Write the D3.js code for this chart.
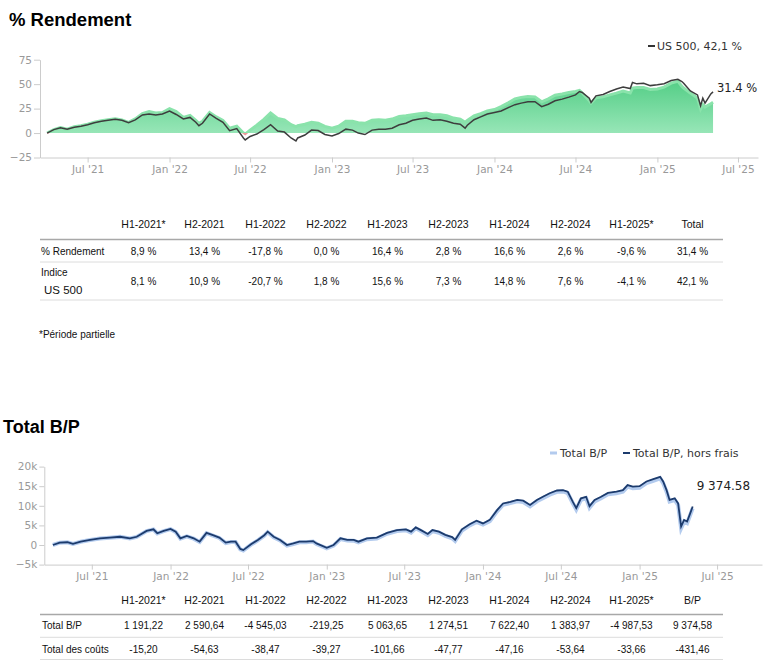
<!DOCTYPE html>
<html>
<head>
<meta charset="utf-8">
<script src="https://cdn.jsdelivr.net/npm/d3@7"></script>
<style>
body { margin: 0; background: #fff; }
svg { display: block; font-family: "Liberation Sans", Arial, sans-serif; }
.axis text { font-family: "DejaVu Sans", sans-serif; font-size: 10.5px; fill: #999; }
.axis path, .axis line { stroke: #ccc; }
</style>
</head>
<body>
<svg id="chart" width="772" height="663"></svg>
<script>
// ---- % Rendement chart (values in %) ----
const rendDates = [
  "2021-04-01","2021-04-16","2021-05-01","2021-05-16","2021-06-01","2021-06-16","2021-07-01","2021-07-16","2021-08-01","2021-08-16",
  "2021-09-01","2021-09-16","2021-10-01","2021-10-16","2021-11-01","2021-11-16","2021-12-01","2021-12-16","2022-01-01","2022-01-16",
  "2022-02-01","2022-02-16","2022-03-01","2022-03-08","2022-03-16","2022-04-01","2022-04-16","2022-05-01","2022-05-16","2022-06-01",
  "2022-06-16","2022-06-20","2022-07-01","2022-07-16","2022-08-01","2022-08-16","2022-09-01","2022-09-16","2022-10-01","2022-10-12",
  "2022-10-16","2022-11-01","2022-11-16","2022-12-01","2022-12-16","2023-01-01","2023-01-16","2023-02-01","2023-02-16","2023-03-01",
  "2023-03-16","2023-04-01","2023-04-16","2023-05-01","2023-05-16","2023-06-01","2023-06-16","2023-07-01","2023-07-16","2023-08-01",
  "2023-08-16","2023-09-01","2023-09-16","2023-10-01","2023-10-16","2023-10-27","2023-11-01","2023-11-16","2023-12-01","2023-12-16",
  "2024-01-01","2024-01-16","2024-02-01","2024-02-16","2024-03-01","2024-03-16","2024-04-01","2024-04-16","2024-05-01","2024-05-16",
  "2024-06-01","2024-06-16","2024-07-01","2024-07-10","2024-07-16","2024-08-01","2024-08-05","2024-08-16","2024-09-01","2024-09-16",
  "2024-10-01","2024-10-16","2024-11-01","2024-11-06","2024-11-16","2024-12-01","2024-12-16","2025-01-01","2025-01-16","2025-02-01",
  "2025-02-16","2025-02-25","2025-03-01","2025-03-16","2025-04-01","2025-04-08","2025-04-13","2025-04-18","2025-05-01","2025-05-06"
]
const rendValues = [
  0, 3.5, 5.5, 4, 6.5, 7.5, 9, 11, 12.5, 13.5,
  14.5, 13.5, 11, 14.5, 20, 22, 20.5, 21, 25, 22,
  16, 18, 13, 10, 12, 21, 16.5, 13, 5, 7,
  0, -1.2, 3, 8, 14, 20.5, 15, 13.5, 8.5, 6.5,
  7.5, 9, 11, 10, 6.8, 5, 7, 12, 12, 10.5,
  10, 13, 13.6, 13, 14.3, 17, 17.7, 18.7, 19.7, 20.4,
  18.7, 18.7, 17.7, 15.3, 14.3, 11, 13, 17.5, 19.8, 22.5,
  24, 27, 31, 35, 36.5, 37.4, 37, 32, 35, 38.7,
  40, 41.5, 42.5, 43.5, 41, 33, 30.6, 36, 37, 39,
  40.8, 43, 41, 46, 46.5, 46.5, 44.5, 45, 47, 51,
  53, 47.6, 46, 41, 35.7, 24.5, 29, 26.5, 30, 31.4
]
const indexValues = [
  0, 3.5, 5.5, 4, 6, 7, 8.5, 10.5, 12, 13,
  14, 13, 10.5, 13.5, 18.5, 19.5, 18.5, 19.5, 22.5, 19,
  14.5, 16, 11, 7.5, 10, 19.5, 15, 11, 2.5, 4.5,
  -5, -7, -3.5, -1, 3.5, 8.5, 2, 1, -5, -8,
  -5, -2, 3, 2.5, -1.5, -3, -0.5, 4, 3, 0,
  -1.5, 3, 4, 4, 5, 8.5, 10, 13, 14.3, 15.3,
  13, 13.6, 12, 10, 9, 5, 8, 13.6, 16.5, 19.5,
  21, 22.5, 26, 29, 30.6, 32, 32, 27, 29.5, 33,
  34.7, 36.7, 39, 42.5, 41.5, 35.7, 31.3, 38, 39.5, 42.5,
  45, 47, 45.5, 51.7, 50.3, 51, 48.5, 49.3, 50.5, 53.7,
  55, 52.7, 51, 43, 39, 27.9, 35.7, 30.6, 40, 42.1
]
const rendTicks = [-25, 0, 25, 50, 75]

// ---- Total B/P chart (values in thousands) ----
const bpDates = [
  "2021-04-01","2021-04-17","2021-05-05","2021-05-18","2021-06-05","2021-06-27","2021-07-20","2021-08-12","2021-09-05","2021-09-28",
  "2021-10-14","2021-11-06","2021-11-22","2021-12-01","2021-12-16","2022-01-01","2022-01-13","2022-01-24","2022-02-08","2022-02-24",
  "2022-03-10","2022-03-26","2022-04-10","2022-04-25","2022-05-10","2022-05-22","2022-06-02","2022-06-13","2022-06-20","2022-07-08",
  "2022-07-24","2022-08-08","2022-08-16","2022-08-30","2022-09-14","2022-09-30","2022-10-15","2022-10-29","2022-11-14","2022-11-30",
  "2022-12-08","2023-01-01","2023-01-17","2023-02-02","2023-02-18","2023-03-05","2023-03-16","2023-04-05","2023-04-28","2023-05-22",
  "2023-06-14","2023-07-05","2023-07-17","2023-07-28","2023-08-09","2023-08-25","2023-09-05","2023-09-20","2023-10-05","2023-10-21",
  "2023-10-28","2023-11-13","2023-12-01","2023-12-17","2024-01-01","2024-01-17","2024-02-03","2024-02-17","2024-03-05","2024-03-21",
  "2024-04-04","2024-04-20","2024-05-06","2024-05-20","2024-06-05","2024-06-22","2024-07-06","2024-07-17","2024-07-29","2024-08-06",
  "2024-08-17","2024-08-29","2024-09-06","2024-09-18","2024-10-03","2024-10-19","2024-11-08","2024-11-23","2024-12-04","2024-12-16",
  "2025-01-01","2025-01-17","2025-02-02","2025-02-18","2025-02-25","2025-03-05","2025-03-12","2025-03-24","2025-04-01","2025-04-08",
  "2025-04-15","2025-04-22","2025-04-29","2025-05-05"
]
const bpHorsFrais = [
  0, 0.6, 0.7, 0.3, 0.85, 1.3, 1.7, 1.9, 2.1, 1.7,
  2.1, 3.6, 4.0, 3.0, 3.6, 4.1, 3.4, 1.7, 2.3, 1.7,
  0.85, 3.1, 2.5, 1.9, 0.6, 0.85, 0.85, -1.0, -1.3, 0.2,
  1.3, 2.5, 3.4, 2.1, 1.3, 0.0, 0.4, 0.85, 0.85, 1.0,
  0.4, -0.7, 0.0, 1.7, 1.3, 1.3, 0.85, 1.7, 1.9, 3.1,
  3.8, 4.0, 3.4, 4.5, 3.8, 2.8, 3.8, 3.4, 2.6, 2.0,
  1.3, 4.0, 5.3, 6.2, 5.5, 6.4, 8.9, 10.6, 11.0, 11.5,
  11.3, 10.2, 11.5, 12.3, 13.2, 13.9, 14.0, 13.6, 11.0, 9.4,
  11.9, 12.3, 9.9, 11.5, 12.3, 13.3, 13.6, 14.0, 15.3, 14.9,
  15.0, 16.2, 16.8, 17.4, 16.2, 14.0, 11.5, 11.9, 10.6, 4.7,
  6.4, 6.0, 8.0, 9.81
]
const bpTotal = [
  0, 0.59, 0.69, 0.29, 0.84, 1.29, 1.68, 1.87, 2.07, 1.66,
  2.05, 3.55, 3.95, 2.94, 3.53, 4.03, 3.33, 1.62, 2.22, 1.61,
  0.76, 3.0, 2.4, 1.8, 0.5, 0.75, 0.75, -1.1, -1.41, 0.09,
  1.18, 2.38, 3.27, 1.97, 1.17, -0.13, 0.26, 0.71, 0.71, 0.86,
  0.26, -0.85, -0.16, 1.53, 1.12, 1.11, 0.65, 1.49, 1.67, 2.86,
  3.55, 3.75, 3.15, 4.25, 3.55, 2.54, 3.54, 3.13, 2.32, 1.71,
  1.01, 3.71, 5.0, 5.9, 5.2, 6.09, 8.58, 10.27, 10.67, 11.16,
  10.96, 9.85, 11.15, 11.94, 12.85, 13.56, 13.66, 13.25, 10.65, 9.05,
  11.54, 11.93, 9.53, 11.13, 11.92, 12.92, 13.22, 13.61, 14.91, 14.51,
  14.6, 15.79, 16.39, 16.99, 15.79, 13.59, 11.09, 11.48, 10.18, 4.28,
  5.98, 5.58, 7.58, 9.37
]
const bpTicks = [-5, 0, 5, 10, 15, 20]

// ---- tables ----
const periods = ["H1-2021*","H2-2021","H1-2022","H2-2022","H1-2023","H2-2023","H1-2024","H2-2024","H1-2025*"]
const rendTable = [8.9, 13.4, -17.8, 0.0, 16.4, 2.8, 16.6, 2.6, -9.6]
const rendTotal = 31.4
const indexTable = [8.1, 10.9, -20.7, 1.8, 15.6, 7.3, 14.8, 7.6, -4.1]
const indexTotal = 42.1
const bpTable = [1191.22, 2590.64, -4545.03, -219.25, 5063.65, 1274.51, 7622.40, 1383.97, -4987.53]
const bpTableTotal = 9374.58
const costTable = [-15.20, -54.63, -38.47, -39.27, -101.66, -47.77, -47.16, -53.64, -33.66]
const costTotal = -431.46

const parse = d3.timeParse("%Y-%m-%d")
const fr = d3.formatLocale({ decimal: ",", thousands: " ", grouping: [3], currency: ["", ""], minus: "-" })
const pct = v => fr.format(".1f")(v) + " %"
const money = fr.format(",.2f")
const labelNum = d3.formatLocale({ decimal: ".", thousands: " ", grouping: [3], currency: ["", ""] }).format(",.2f")
const tickFmt = d3.timeFormat("%b '%y")

const svg = d3.select("#chart")
const defs = svg.append("defs")

// ================= % Rendement =================
svg.append("text").attr("x", 9).attr("y", 26)
    .attr("font-weight", "bold").attr("font-size", "18.5px").attr("fill", "#000")
    .text("% Rendement")

const x1 = d3.scaleTime().domain([parse("2021-03-16"), parse("2025-08-15")]).range([40, 758])
const y1 = d3.scaleLinear().domain([-25, 75]).range([157.5, 59.7])

const rend = rendDates.map((d, i) => ({ date: parse(d), v: rendValues[i], idx: indexValues[i] }))

const grad = defs.append("linearGradient").attr("id", "greenFill")
    .attr("gradientUnits", "userSpaceOnUse")
    .attr("x1", 0).attr("x2", 0).attr("y1", y1(55)).attr("y2", y1(0))
grad.append("stop").attr("offset", 0).attr("stop-color", "#52cd85")
grad.append("stop").attr("offset", 1).attr("stop-color", "#97e6b7")

defs.append("clipPath").attr("id", "clipPos").append("rect")
    .attr("x", 0).attr("y", 0).attr("width", 772).attr("height", y1(0))
defs.append("clipPath").attr("id", "clipNeg").append("rect")
    .attr("x", 0).attr("y", y1(0)).attr("width", 772).attr("height", 100)

svg.append("g").attr("class", "axis")
    .attr("transform", "translate(0," + y1(-25) + ")")
    .call(d3.axisBottom(x1).ticks(d3.timeMonth.every(6)).tickFormat(tickFmt).tickSize(5).tickSizeOuter(0).tickPadding(3))
svg.append("g").attr("class", "axis")
    .attr("transform", "translate(40,0)")
    .call(d3.axisLeft(y1).tickValues(rendTicks).tickSize(6).tickSizeOuter(0).tickPadding(2))

const rendArea = d3.area().x(d => x1(d.date)).y0(y1(0)).y1(d => y1(d.v))
const rendLine = d3.line().x(d => x1(d.date)).y(d => y1(d.v))

svg.append("path").datum(rend).attr("d", rendArea)
    .attr("fill", "url(#greenFill)").attr("clip-path", "url(#clipPos)")
svg.append("path").datum(rend).attr("d", rendArea)
    .attr("fill", "#f4b3b3").attr("clip-path", "url(#clipNeg)")
svg.append("path").datum(rend).attr("d", rendLine)
    .attr("fill", "none").attr("stroke", "#8ae3ab").attr("stroke-width", 3)
    .attr("clip-path", "url(#clipPos)")
svg.append("path").datum(rend).attr("d", rendLine)
    .attr("fill", "none").attr("stroke", "#ee9a9a").attr("stroke-width", 2)
    .attr("clip-path", "url(#clipNeg)")

svg.append("path").datum(rend)
    .attr("d", d3.line().x(d => x1(d.date)).y(d => y1(d.idx)))
    .attr("fill", "none").attr("stroke", "#3d3d3d").attr("stroke-width", 1.5)

const lastR = rend[rend.length - 1]
svg.append("text").attr("x", x1(lastR.date) + 4).attr("y", y1(lastR.v) - 10.5)
    .attr("font-family", "DejaVu Sans, sans-serif").attr("font-size", "11.5px").attr("fill", "#222")
    .text(d3.format(".1f")(rendTotal) + " %")

// legend
svg.append("line").attr("x1", 648).attr("x2", 655).attr("y1", 46).attr("y2", 46)
    .attr("stroke", "#333").attr("stroke-width", 2)
svg.append("text").attr("x", 657).attr("y", 50)
    .attr("font-family", "DejaVu Sans, sans-serif").attr("font-size", "11px").attr("fill", "#333")
    .text("US 500, " + pct(indexTotal))

// ================= tables =================
const colX = d3.scaleLinear().domain([0, 9]).range([143.5, 692.5])
const tableLeft = 40, tableRight = 723

function drawTable(g, heads, yHead, yRule, rows) {
    g.selectAll(".head").data(heads).enter().append("text")
        .attr("x", (d, i) => colX(i)).attr("y", yHead)
        .attr("text-anchor", "middle").attr("font-size", "10.5px").attr("fill", "#111")
        .text(d => d)
    g.append("line").attr("x1", tableLeft).attr("x2", tableRight).attr("y1", yRule).attr("y2", yRule)
        .attr("stroke", "#a8a8a8").attr("stroke-width", 1.5)
    rows.forEach(r => {
        g.selectAll(null).data(r.values).enter().append("text")
            .attr("x", (d, i) => colX(i)).attr("y", r.y)
            .attr("text-anchor", "middle").attr("font-size", "10px").attr("fill", "#111")
            .text(d => d)
        r.labels.forEach(l => {
            g.append("text").attr("x", l.x).attr("y", l.y).attr("font-size", l.size).attr("fill", "#111").text(l.text)
        })
        g.append("line").attr("x1", tableLeft).attr("x2", tableRight).attr("y1", r.rule).attr("y2", r.rule)
            .attr("stroke", "#dcdcdc").attr("stroke-width", 1)
    })
}

drawTable(svg.append("g"), periods.concat(["Total"]), 227.7, 239.5, [
    { values: rendTable.concat([rendTotal]).map(pct), y: 254.5, rule: 262,
      labels: [{ text: "% Rendement", x: 41, y: 254.5, size: "10px" }] },
    { values: indexTable.concat([indexTotal]).map(pct), y: 285.2, rule: 300,
      labels: [{ text: "Indice", x: 41, y: 275.8, size: "10px" },
               { text: "US 500", x: 44, y: 294, size: "11.5px" }] }
])

svg.append("text").attr("x", 39).attr("y", 337.5).attr("font-size", "10px").attr("fill", "#111")
    .text("*Période partielle")

// ================= Total B/P =================
svg.append("text").attr("x", 3).attr("y", 433)
    .attr("font-weight", "bold").attr("font-size", "18px").attr("fill", "#000")
    .text("Total B/P")

const x2 = d3.scaleTime().domain([parse("2021-03-12"), parse("2025-10-14")]).range([44.3, 762])
const y2 = d3.scaleLinear().domain([-5, 20]).range([564.6, 466.6])

const bp = bpDates.map((d, i) => ({ date: parse(d), hf: bpHorsFrais[i], tot: bpTotal[i] }))

svg.append("g").attr("class", "axis")
    .attr("transform", "translate(0," + y2(-5) + ")")
    .call(d3.axisBottom(x2).ticks(d3.timeMonth.every(6)).tickFormat(tickFmt).tickSize(5).tickSizeOuter(0).tickPadding(3))
svg.append("g").attr("class", "axis")
    .attr("transform", "translate(44.3,0)")
    .call(d3.axisLeft(y2).tickValues(bpTicks).tickSize(5).tickSizeOuter(0).tickPadding(2)
        .tickFormat(d => d === 0 ? "0" : (d < 0 ? "\u2212" : "") + Math.abs(d) + "k"))

svg.append("path").datum(bp)
    .attr("d", d3.line().x(d => x2(d.date)).y(d => y2(d.tot)))
    .attr("fill", "none").attr("stroke", "#b3cbee").attr("stroke-width", 4)
svg.append("path").datum(bp)
    .attr("d", d3.line().x(d => x2(d.date)).y(d => y2(d.hf)))
    .attr("fill", "none").attr("stroke", "#1c3b6d").attr("stroke-width", 1.8)

const lastB = bp[bp.length - 1]
svg.append("text").attr("x", x2(lastB.date) + 4).attr("y", y2(lastB.hf) - 17)
    .attr("font-family", "DejaVu Sans, sans-serif").attr("font-size", "12px").attr("fill", "#222")
    .text(labelNum(bpTableTotal))

// legend
svg.append("line").attr("x1", 550).attr("x2", 557).attr("y1", 453).attr("y2", 453)
    .attr("stroke", "#b3cbee").attr("stroke-width", 3)
svg.append("text").attr("x", 560).attr("y", 457)
    .attr("font-family", "DejaVu Sans, sans-serif").attr("font-size", "11px").attr("fill", "#333")
    .text("Total B/P")
svg.append("line").attr("x1", 623).attr("x2", 630).attr("y1", 453).attr("y2", 453)
    .attr("stroke", "#1c3b6d").attr("stroke-width", 2)
svg.append("text").attr("x", 633).attr("y", 457)
    .attr("font-family", "DejaVu Sans, sans-serif").attr("font-size", "11px").attr("fill", "#333")
    .text("Total B/P, hors frais")

drawTable(svg.append("g"), periods.concat(["B/P"]), 603.7, 614.5, [
    { values: bpTable.concat([bpTableTotal]).map(money), y: 629.2, rule: 637.3,
      labels: [{ text: "Total B/P", x: 42, y: 629.2, size: "10px" }] },
    { values: costTable.concat([costTotal]).map(money), y: 652.5, rule: 659.5,
      labels: [{ text: "Total des coûts", x: 42, y: 652.5, size: "10px" }] }
])
</script>
</body>
</html>
